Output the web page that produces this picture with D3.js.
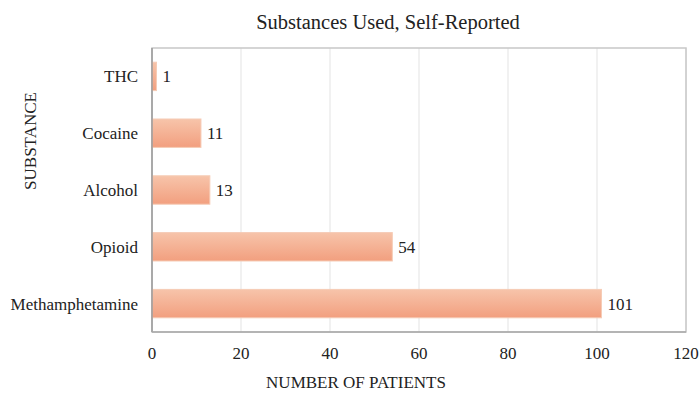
<!DOCTYPE html>
<html>
<head>
<meta charset="utf-8">
<script src="https://cdn.jsdelivr.net/npm/d3@7"></script>
<style>
  body { margin: 0; background: #fff; }
  svg text { font-family: "Liberation Serif", "DejaVu Serif", serif; fill: #222; }
</style>
</head>
<body>
<div class="chart"></div>
<script>
const substances = ["THC", "Cocaine", "Alcohol", "Opioid", "Methamphetamine"]
const patients = [1, 11, 13, 54, 101]
const xTicks = [0, 20, 40, 60, 80, 100, 120]

const width = 699
const height = 393
const margin = { top: 48, right: 13, bottom: 61, left: 152 }

const svg = d3.select(".chart").append("svg").attr("width", width).attr("height", height)

const defs = svg.append("defs")
const grad = defs.append("linearGradient")
    .attr("id", "barGrad")
    .attr("x1", 0).attr("y1", 0).attr("x2", 0).attr("y2", 1)
grad.append("stop").attr("offset", "0%").attr("stop-color", "#f7c4aa")
grad.append("stop").attr("offset", "100%").attr("stop-color", "#f29f7f")

let x = d3.scaleLinear().domain([0, 120]).range([margin.left, width - margin.right])
let y = d3.scaleBand().domain(substances).range([margin.top, height - margin.bottom])
    .paddingInner(0.5).paddingOuter(0.25)

// gridlines
svg.selectAll(".grid").data(xTicks.slice(1))
    .enter()
    .append("line")
    .attr("class", "grid")
    .attr("x1", d => x(d)).attr("x2", d => x(d))
    .attr("y1", margin.top).attr("y2", height - margin.bottom)
    .style("stroke", "#e3e3e3")
    .style("stroke-width", "1px")

// frame
svg.append("rect")
    .attr("x", margin.left).attr("y", margin.top)
    .attr("width", width - margin.left - margin.right)
    .attr("height", height - margin.top - margin.bottom)
    .attr("fill", "none")
    .style("stroke", "#c8c8c8")
    .style("stroke-width", "1.5px")

// bars
svg.selectAll(".bar").data(substances)
    .enter()
    .append("rect")
    .attr("class", "bar")
    .attr("x", x(0))
    .attr("y", d => y(d))
    .attr("height", y.bandwidth())
    .attr("width", (d, i) => x(patients[i]) - x(0))
    .attr("fill", "url(#barGrad)")
    .style("stroke", "#f6cbb5")
    .style("stroke-width", "1px")

// value labels
svg.selectAll(".val").data(substances)
    .enter()
    .append("text")
    .attr("class", "val")
    .attr("x", (d, i) => x(patients[i]) + 6)
    .attr("y", d => y(d) + y.bandwidth() / 2)
    .attr("dy", "0.35em")
    .style("font-size", "17px")
    .text((d, i) => patients[i])

// left & bottom axis lines
svg.append("line")
    .attr("x1", margin.left).attr("x2", margin.left)
    .attr("y1", margin.top).attr("y2", height - margin.bottom)
    .style("stroke", "#9a9a9a").style("stroke-width", "1.5px")
svg.append("line")
    .attr("x1", margin.left).attr("x2", width - margin.right)
    .attr("y1", height - margin.bottom).attr("y2", height - margin.bottom)
    .style("stroke", "#a8a8a8").style("stroke-width", "1.5px")

// category labels
svg.selectAll(".cat").data(substances)
    .enter()
    .append("text")
    .attr("class", "cat")
    .attr("x", margin.left - 14)
    .attr("y", d => y(d) + y.bandwidth() / 2)
    .attr("dy", "0.35em")
    .attr("text-anchor", "end")
    .style("font-size", "17px")
    .text(d => d)

// x tick labels
svg.selectAll(".tick").data(xTicks)
    .enter()
    .append("text")
    .attr("class", "tick")
    .attr("x", d => x(d))
    .attr("y", 353)
    .attr("dy", "0.35em")
    .attr("text-anchor", "middle")
    .style("font-size", "17px")
    .text(d => d)

// titles
svg.append("text")
    .attr("x", 388).attr("y", 22)
    .attr("dy", "0.35em")
    .attr("text-anchor", "middle")
    .style("font-size", "20.5px")
    .text("Substances Used, Self-Reported")

svg.append("text")
    .attr("x", 356).attr("y", 382)
    .attr("dy", "0.35em")
    .attr("text-anchor", "middle")
    .style("font-size", "17px")
    .text("NUMBER OF PATIENTS")

svg.append("text")
    .attr("transform", "translate(30,141) rotate(-90)")
    .attr("dy", "0.35em")
    .attr("text-anchor", "middle")
    .style("font-size", "17px")
    .text("SUBSTANCE")
</script>
</body>
</html>
